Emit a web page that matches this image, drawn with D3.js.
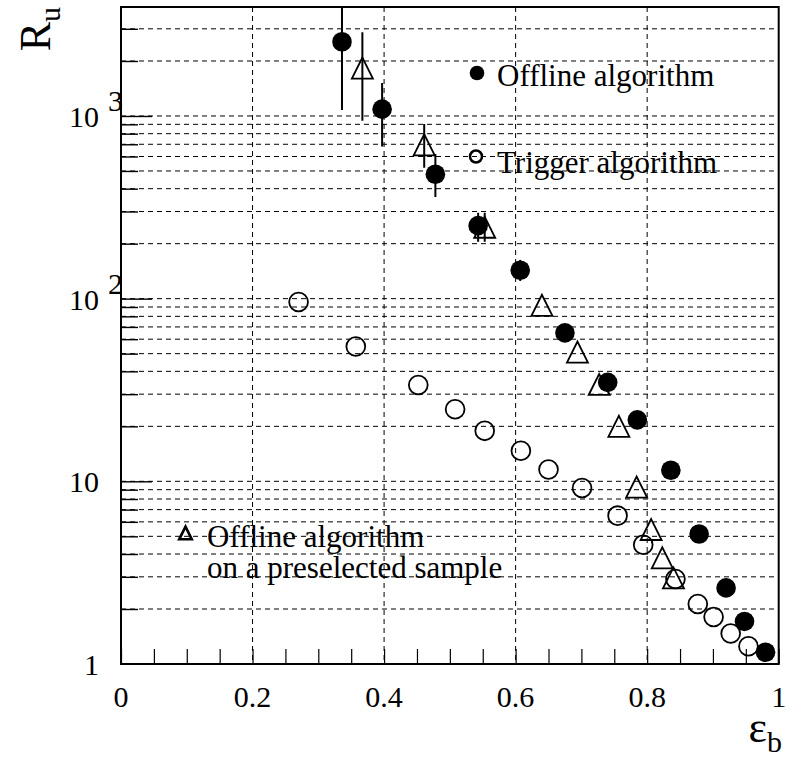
<!DOCTYPE html>
<html><head><meta charset="utf-8">
<script src="https://cdn.jsdelivr.net/npm/d3@7"></script>
<style>
body{margin:0;background:#fff}
svg{display:block}
</style>
</head><body>
<svg id="c" width="793" height="767"></svg>
<script>
// ---- data ----
const offlineEff = [0.336, 0.397, 0.478, 0.543, 0.607, 0.675, 0.740, 0.785, 0.836, 0.879, 0.920, 0.948, 0.980];
const offlineRu  = [2550, 1090, 480, 251, 143, 65, 34.8, 21.7, 11.5, 5.15, 2.61, 1.71, 1.16];
const offlineLo  = [1080, 680, 360, 205, 125, null, null, null, null, null, null, null, null];
const offlineHi  = [6000, 1515, 620, 295, 163, null, null, null, null, null, null, null, null];

const preselEff = [0.367, 0.461, 0.553, 0.640, 0.694, 0.727, 0.757, 0.784, 0.806, 0.823, 0.840];
const preselRu  = [1830, 695, 246, 91.9, 51, 33.9, 20, 9.3, 5.45, 3.81, 2.96];
const preselLo  = [942, 520, 205, null, null, null, null, null, null, null, null];
const preselHi  = [2876, 904, 295, null, null, null, null, null, null, null, null];

const triggerEff = [0.270, 0.357, 0.452, 0.508, 0.553, 0.608, 0.650, 0.701, 0.755, 0.794, 0.843, 0.877, 0.901, 0.927, 0.954];
const triggerRu  = [95.8, 54.7, 33.7, 24.8, 18.9, 14.7, 11.6, 9.2, 6.49, 4.5, 2.92, 2.13, 1.81, 1.47, 1.25];

const xTickLabels = ["0", "0.2", "0.4", "0.6", "0.8", "1"];
const xTickValues = [0, 0.2, 0.4, 0.6, 0.8, 1];
const yTickValues = [1, 10, 100, 1000];
const yTickBase   = ["1", "10", "10", "10"];
const yTickExp    = ["", "", "2", "3"];

// ---- font detection ----
function pickFont(cands) {
  const c = document.createElement("canvas").getContext("2d");
  const s = "Offline algorithm 0.2";
  c.font = "40px monospace"; const wm = c.measureText(s).width;
  c.font = "40px sans-serif"; const ws = c.measureText(s).width;
  for (const f of cands) {
    c.font = `40px "${f}", monospace`; const a = c.measureText(s).width;
    c.font = `40px "${f}", sans-serif`; const b = c.measureText(s).width;
    if (a !== wm || b !== ws) return `"${f}"`;
  }
  return "serif";
}
const FONT = pickFont(["Liberation Serif", "Times New Roman", "Tinos", "Nimbus Roman", "DejaVu Serif", "Noto Serif"]) + ", serif";

// ---- layout ----
const L = 121, R = 778.7, T = 7, B = 664;
const svg = d3.select("#c").attr("font-family", FONT).style("font-family", FONT);

const x = d3.scaleLinear().domain([0, 1]).range([L, R]);
const y = d3.scaleLog().domain([1, 3950]).range([B, T]);

// grid
const grid = svg.append("g").attr("stroke", "#000").attr("stroke-width", 1).attr("stroke-dasharray", "5,4").attr("fill", "none");
const minorY = [];
for (let e = 0; e <= 3; e++) for (let m = 1; m <= 9; m++) { const v = m * Math.pow(10, e); if (v > 1 && v < 3950) minorY.push(v); }
grid.selectAll("line.h").data(minorY).join("line")
  .attr("x1", L).attr("x2", R).attr("y1", d => y(d)).attr("y2", d => y(d));
grid.selectAll("line.v").data([0.2, 0.4, 0.6, 0.8]).join("line")
  .attr("y1", T).attr("y2", B).attr("x1", d => x(d)).attr("x2", d => x(d));

// axis ticks (inside)
const xAxis = d3.axisBottom(x).tickValues(d3.range(0, 21).map(i => i * 0.05)).tickSize(-15).tickFormat("");
const gx = svg.append("g").attr("transform", `translate(0,${B})`).call(xAxis);
gx.select(".domain").remove();
gx.selectAll(".tick line").attr("stroke", "#000").attr("stroke-width", 1.2);

const yAxisMinor = d3.axisLeft(y).tickValues(minorY.filter(v => !yTickValues.includes(v))).tickSize(-17).tickFormat("");
const gy1 = svg.append("g").attr("transform", `translate(${L},0)`).call(yAxisMinor);
gy1.select(".domain").remove();
gy1.selectAll(".tick line").attr("stroke", "#000").attr("stroke-width", 1.4);
const yAxisMajor = d3.axisLeft(y).tickValues(yTickValues.slice(1)).tickSize(-31).tickFormat("");
const gy2 = svg.append("g").attr("transform", `translate(${L},0)`).call(yAxisMajor);
gy2.select(".domain").remove();
gy2.selectAll(".tick line").attr("stroke", "#000").attr("stroke-width", 1.4);

// frame
svg.append("rect").attr("x", L).attr("y", T).attr("width", R - L).attr("height", B - T)
  .attr("fill", "none").attr("stroke", "#000").attr("stroke-width", 2);

// tick labels
const txt = sel => sel.attr("font-family", FONT).attr("fill", "#000");
svg.append("g").selectAll("text").data(xTickValues).join("text").call(txt)
  .attr("x", d => x(d)).attr("y", 707).attr("text-anchor", "middle").attr("font-size", 30)
  .text((d, i) => xTickLabels[i]);
const yl = svg.append("g");
yTickValues.forEach((v, i) => {
  yl.append("text").call(txt).attr("x", 99).attr("y", y(v) + 11).attr("text-anchor", "end").attr("font-size", 30).text(yTickBase[i]);
  if (yTickExp[i]) yl.append("text").call(txt).attr("x", 108).attr("y", y(v) - 5).attr("font-size", 30).text(yTickExp[i]);
});

// axis titles
const xt = svg.append("text").call(txt).attr("x", 782).attr("y", 742).attr("text-anchor", "end").attr("font-size", 44);
xt.append("tspan").text("ε");
xt.append("tspan").attr("font-size", 30).attr("dy", 10).text("b");
const ytTitle = svg.append("text").call(txt).attr("transform", "translate(50,7) rotate(-90)").attr("text-anchor", "end").attr("font-size", 44);
ytTitle.append("tspan").text("R");
ytTitle.append("tspan").attr("font-size", 30).attr("dy", 10).text("u");

// clip
svg.append("clipPath").attr("id", "clip").append("rect").attr("x", L).attr("y", T).attr("width", R - L).attr("height", B - T);
const plot = svg.append("g").attr("clip-path", "url(#clip)");

// error bars
function errBars(effs, vals, lo, hi) {
  const d = effs.map((e, i) => ({e, lo: lo[i], hi: hi[i]})).filter(d => d.lo != null);
  plot.append("g").selectAll("line").data(d).join("line")
    .attr("x1", d => x(d.e)).attr("x2", d => x(d.e))
    .attr("y1", d => y(d.lo)).attr("y2", d => y(d.hi))
    .attr("stroke", "#000").attr("stroke-width", 2);
}
errBars(offlineEff, offlineRu, offlineLo, offlineHi);
errBars(preselEff, preselRu, preselLo, preselHi);

// markers
const triPath = s => `M${-s},${s}L${s},${s}L0,${-s}Z`;
plot.append("g").selectAll("path").data(preselEff).join("path")
  .attr("d", triPath(10.5))
  .attr("transform", (d, i) => `translate(${x(d)},${y(preselRu[i])})`)
  .attr("fill", "none").attr("stroke", "#000").attr("stroke-width", 1.8);
plot.append("g").selectAll("circle").data(triggerEff).join("circle")
  .attr("cx", d => x(d)).attr("cy", (d, i) => y(triggerRu[i])).attr("r", 9.4)
  .attr("fill", "none").attr("stroke", "#000").attr("stroke-width", 1.8);
plot.append("g").selectAll("circle").data(offlineEff).join("circle")
  .attr("cx", d => x(d)).attr("cy", (d, i) => y(offlineRu[i])).attr("r", 9.8)
  .attr("fill", "#000");

// legend
svg.append("circle").attr("cx", 477).attr("cy", 73).attr("r", 7.3).attr("fill", "#000");
svg.append("text").call(txt).attr("x", 497).attr("y", 86).attr("font-size", 31).text("Offline algorithm");
svg.append("circle").attr("cx", 476).attr("cy", 156.5).attr("r", 6).attr("fill", "none").attr("stroke", "#000").attr("stroke-width", 2.5);
svg.append("text").call(txt).attr("x", 497).attr("y", 173).attr("font-size", 31).text("Trigger algorithm");
svg.append("path").attr("d", triPath(6.3)).attr("transform", "translate(185.5,533)")
  .attr("fill", "none").attr("stroke", "#000").attr("stroke-width", 2.6);
svg.append("text").call(txt).attr("x", 207).attr("y", 547).attr("font-size", 31).text("Offline algorithm");
svg.append("text").call(txt).attr("x", 207).attr("y", 578).attr("font-size", 31).text("on a preselected sample");
</script>
</body></html>
